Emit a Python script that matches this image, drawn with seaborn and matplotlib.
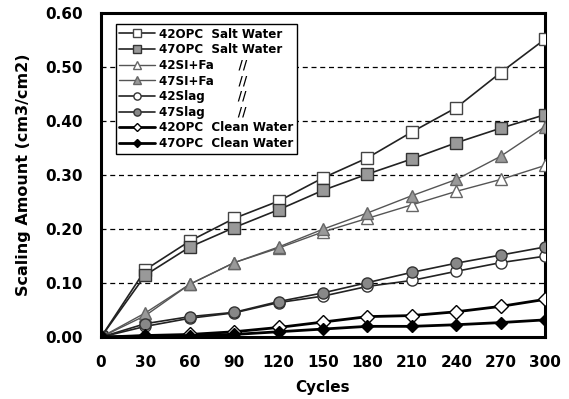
import matplotlib
matplotlib.use("Agg")
import matplotlib.pyplot as plt
import seaborn as sns
import pandas as pd

sns.set_style("white")
plt.rcParams['font.family'] = ['DejaVu Sans']
plt.rcParams['text.color'] = 'black'
plt.rcParams['axes.labelcolor'] = 'black'
plt.rcParams['xtick.color'] = 'black'
plt.rcParams['ytick.color'] = 'black'

cycles = [0, 30, 60, 90, 120, 150, 180, 210, 240, 270, 300]
opc42_salt = [0.0, 0.125, 0.178, 0.220, 0.252, 0.295, 0.332, 0.380, 0.425, 0.490, 0.552]
opc47_salt = [0.0, 0.115, 0.167, 0.203, 0.236, 0.272, 0.302, 0.330, 0.360, 0.387, 0.412]
sifa42 = [0.0, 0.040, 0.098, 0.138, 0.165, 0.195, 0.220, 0.245, 0.270, 0.292, 0.318]
sifa47 = [0.0, 0.045, 0.098, 0.138, 0.167, 0.200, 0.230, 0.262, 0.292, 0.335, 0.390]
slag42 = [0.0, 0.020, 0.035, 0.045, 0.064, 0.076, 0.094, 0.105, 0.122, 0.138, 0.150]
slag47 = [0.0, 0.025, 0.038, 0.046, 0.066, 0.082, 0.101, 0.120, 0.137, 0.152, 0.167]
opc42_clean = [0.0, 0.003, 0.005, 0.010, 0.018, 0.028, 0.038, 0.040, 0.047, 0.057, 0.070]
opc47_clean = [0.0, 0.002, 0.003, 0.005, 0.010, 0.015, 0.020, 0.020, 0.023, 0.027, 0.032]

labels = ["42OPC  Salt Water", "47OPC  Salt Water", "42SI+Fa      //",
          "47SI+Fa      //", "42Slag        //", "47Slag        //",
          "42OPC  Clean Water", "47OPC  Clean Water"]
series = [opc42_salt, opc47_salt, sifa42, sifa47, slag42, slag47, opc42_clean, opc47_clean]

styles = [
    dict(marker='s', mfc='white', mec='#444444', color='#222222', lw=1.2, ms=8, ls='-'),
    dict(marker='s', mfc='#999999', mec='#333333', color='#222222', lw=1.2, ms=8, ls='-'),
    dict(marker='^', mfc='white', mec='#666666', color='#555555', lw=1.0, ms=8, ls='-'),
    dict(marker='^', mfc='#999999', mec='#666666', color='#555555', lw=1.0, ms=8, ls='-'),
    dict(marker='o', mfc='white', mec='#333333', color='#222222', lw=1.2, ms=8, ls='-'),
    dict(marker='o', mfc='#888888', mec='#333333', color='#222222', lw=1.2, ms=8, ls='-'),
    dict(marker='D', mfc='white', mec='black', color='black', lw=2.0, ms=7, ls='-'),
    dict(marker='D', mfc='black', mec='black', color='black', lw=2.0, ms=6, ls='-'),
]

rows = []
for lab, vals in zip(labels, series):
    for c, v in zip(cycles, vals):
        rows.append(dict(Cycles=c, Value=v, Series=lab))
df = pd.DataFrame(rows)

fig = plt.figure(figsize=(5.69, 3.99), dpi=100)
ax = fig.add_axes([0.1775, 0.155, 0.7805, 0.812])

for lab, st in zip(labels, styles):
    sub = df[df.Series == lab]
    sns.lineplot(data=sub, x="Cycles", y="Value", ax=ax, label=lab,
                 color=st['color'], linewidth=st['lw'], marker=st['marker'],
                 markersize=st['ms'], markerfacecolor=st['mfc'],
                 markeredgecolor=st['mec'], markeredgewidth=1.0, zorder=3)

for yv in [0.1, 0.2, 0.3, 0.4, 0.5]:
    ax.axhline(yv, color='black', ls=(0, (4, 3)), lw=0.9, zorder=1)

ax.set_xlim(0, 300)
ax.set_ylim(0, 0.6)
ax.set_xticks(cycles)
ax.set_xticklabels([str(c) for c in cycles])
ax.set_yticks([0, 0.1, 0.2, 0.3, 0.4, 0.5, 0.6])
ax.set_yticklabels(["0.00", "0.10", "0.20", "0.30", "0.40", "0.50", "0.60"])
ax.tick_params(axis='both', labelsize=11, length=0, pad=13)
for t in ax.get_xticklabels() + ax.get_yticklabels():
    t.set_fontweight('bold')
ax.set_xlabel("Cycles", fontsize=11, fontweight='bold', labelpad=7)
ax.set_ylabel("Scaling Amount (cm3/cm2)", fontsize=11.5, fontweight='bold', labelpad=10)
for sp in ax.spines.values():
    sp.set_visible(True)
    sp.set_color('black')
    sp.set_linewidth(2.2)

leg = ax.legend(loc='upper left', bbox_to_anchor=(0.02, 0.985), frameon=True,
                fancybox=False, edgecolor='black', framealpha=1.0,
                prop=dict(size=8.6, weight='bold'), handlelength=3.0,
                labelspacing=0.22, borderpad=0.3, handletextpad=0.3,
                markerscale=0.65)
leg.get_frame().set_linewidth(1.0)
leg.set_zorder(5)

fig.savefig("out.png", dpi=100)
